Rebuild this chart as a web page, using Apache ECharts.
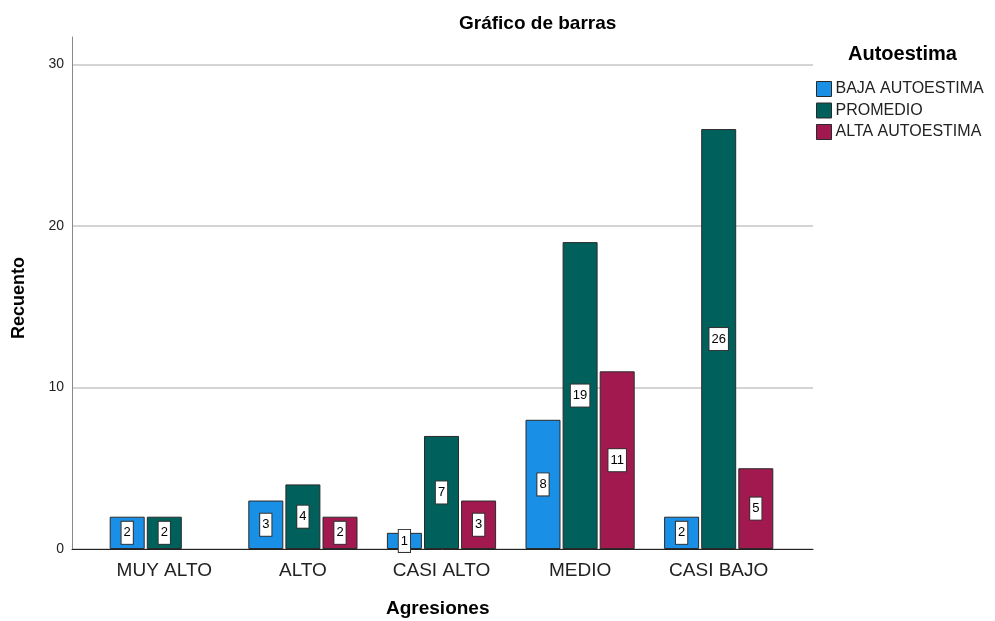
<!DOCTYPE html>
<html>
<head>
<meta charset='utf-8' />
<title>Gráfico de barras</title>
<style>
html, body { margin: 0; padding: 0; background: #fff; }
#chart { width: 995px; height: 621px; }
</style>
</head>
<body>
<div id="chart"></div>
<script src="https://cdn.jsdelivr.net/npm/echarts@6/dist/echarts.min.js"></script>
<script>
// datos
var categorias = ['MUY ALTO', 'ALTO', 'CASI ALTO', 'MEDIO', 'CASI BAJO'];
var baja = [2, 3, 1, 8, 2];
var promedio = [2, 4, 7, 19, 26];
var alta = [0, 2, 3, 11, 5];
var nombres = ['BAJA AUTOESTIMA', 'PROMEDIO', 'ALTA AUTOESTIMA'];
var colores = ['#1a8fe6', '#00605b', '#a2194f'];
var yMax = 31.7;

var myChart = echarts.init(document.getElementById('chart'));

function serie(nombre, datos, color) {
  return {
    name: nombre,
    type: 'bar',
    xAxisIndex: 0,
    yAxisIndex: 0,
    data: datos.map(function (v) { return v === 0 ? null : v; }),
    barWidth: 35,
    barGap: '6%',
    itemStyle: { color: color, borderColor: '#2a2a2a', borderWidth: 1 },
    label: {
      show: true,
      position: 'inside',
      color: '#000',
      fontSize: 13,
      fontFamily: 'Liberation Sans',
      backgroundColor: '#fff',
      borderColor: '#333',
      borderWidth: 1,
      padding: [5, 2, 4, 2]
    },
    emphasis: { disabled: true }
  };
}

var option = {
  animation: false,
  textStyle: { fontFamily: 'Liberation Sans' },
  title: {
    text: 'Gráfico de barras',
    left: 454, top: 9,
    textStyle: { fontSize: 19, fontWeight: 'bold', color: '#000', fontFamily: 'Liberation Sans' }
  },
  graphic: [
    { type: 'text', left: 848, top: 44, style: { text: 'Autoestima', font: 'bold 20px "Liberation Sans"', fill: '#000' } },
    { type: 'text', left: 386, top: 599, style: { text: 'Agresiones', font: 'bold 19px "Liberation Sans"', fill: '#000' } },
    { type: 'text', left: 10, top: 257, rotation: Math.PI / 2, style: { text: 'Recuento', font: 'bold 18px "Liberation Sans"', fill: '#000' } }
  ],
  legend: {
    orient: 'vertical',
    left: 816, top: 81,
    padding: 0,
    itemWidth: 15, itemHeight: 15,
    itemGap: 5.5,
    icon: 'rect',
    itemStyle: { borderColor: '#2a2a2a', borderWidth: 1 },
    textStyle: { fontSize: 16, color: '#222', padding: [0, 0, 0, -1] },
    data: nombres
  },
  grid: [
    { left: 95, right: 207, top: 37, bottom: 72 },
    { left: 72, right: 182, top: 37, bottom: 72 }
  ],
  xAxis: [
    {
      type: 'category', gridIndex: 0, data: categorias,
      axisLine: { show: false }, axisTick: { show: false },
      axisLabel: { fontSize: 19, color: '#222', margin: 12 }
    },
    {
      type: 'value', gridIndex: 1, min: 0, max: 1,
      axisLine: { show: true, onZero: false, lineStyle: { color: '#222', width: 1 } },
      axisTick: { show: false }, axisLabel: { show: false }, splitLine: { show: false }
    }
  ],
  yAxis: [
    {
      type: 'value', gridIndex: 0, min: 0, max: yMax, interval: 10,
      axisLine: { show: false }, axisTick: { show: false },
      axisLabel: { show: false }, splitLine: { show: false }
    },
    {
      type: 'value', gridIndex: 1, min: 0, max: yMax, interval: 10,
      axisLine: { show: true, lineStyle: { color: '#888', width: 1 } },
      axisTick: { show: false },
      axisLabel: {
        fontSize: 14, color: '#222', margin: 8, showMaxLabel: false,
        formatter: function (v) { return v % 10 === 0 ? String(v) : ''; }
      },
      splitLine: {
        show: true,
        lineStyle: { color: ['#d4d4d4', '#d4d4d4', '#d4d4d4', '#d4d4d4', 'rgba(0,0,0,0)'], width: 2 }
      }
    }
  ],
  series: [
    serie(nombres[0], baja, colores[0]),
    serie(nombres[1], promedio, colores[1]),
    serie(nombres[2], alta, colores[2])
  ]
};

myChart.setOption(option);
</script>
</body>
</html>
